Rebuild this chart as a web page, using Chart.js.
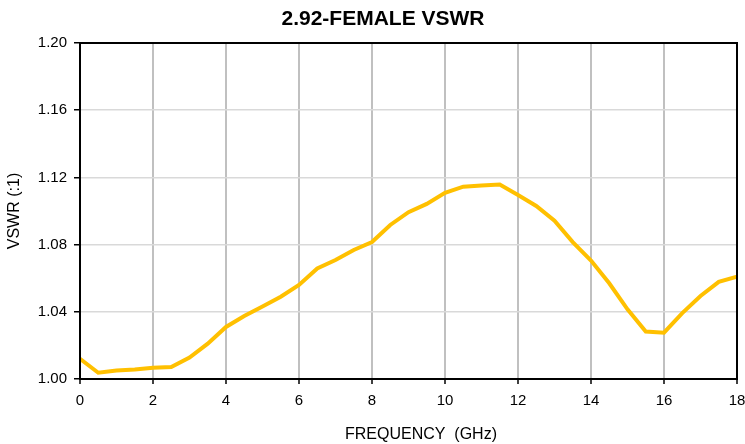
<!DOCTYPE html>
<html>
<head>
<meta charset="utf-8">
<script src="https://cdn.jsdelivr.net/npm/chart.js@4.4.1/dist/chart.umd.min.js"></script>
<style>
  html, body { margin: 0; padding: 0; background: #fff; }
  #wrap { width: 745px; height: 444px; }
</style>
</head>
<body>
<div id="wrap"><canvas id="vswr"></canvas></div>
<script>
// values
const freqGHz = [0, 0.5, 1, 1.5, 2, 2.5, 3, 3.5, 4, 4.5, 5, 5.5, 6, 6.5, 7, 7.5, 8, 8.5, 9,
  9.5, 10, 10.5, 11, 11.5, 12, 12.5, 13, 13.5, 14, 14.5, 15, 15.5, 16, 16.5, 17, 17.5, 18];
const vswr = [1.012, 1.0037, 1.005, 1.0056, 1.0067, 1.0072, 1.0128, 1.021, 1.031, 1.0375, 1.0432, 1.049,
  1.056, 1.0658, 1.0708, 1.0768, 1.0815, 1.0917, 1.0993, 1.1042, 1.1108, 1.1145, 1.1152, 1.1157,
  1.1095, 1.1030, 1.0942, 1.0815, 1.0705, 1.057, 1.0415, 1.0283, 1.0276, 1.0392, 1.0494, 1.0578, 1.0609];
const xTicks = { min: 0, max: 18, step: 2 };
const yTicks = { min: 1.0, max: 1.2, step: 0.04 };
const chartTitle = '2.92-FEMALE VSWR';
const xTitle = 'FREQUENCY  (GHz)';
const yTitle = 'VSWR (:1)';

const FONT = 'Liberation Sans, Arial, sans-serif';

// frame round the plot area, plus the two titles (placed off-centre like the original)
const frame = {
  id: 'frame',
  afterDatasetsDraw(chart) {
    const { ctx, chartArea: a } = chart;
    ctx.save();
    ctx.strokeStyle = '#000';
    ctx.lineWidth = 2;
    ctx.strokeRect(a.left, a.top, a.right - a.left, a.bottom - a.top);
    ctx.fillStyle = '#000';
    ctx.textAlign = 'center';
    ctx.textBaseline = 'middle';
    ctx.font = `bold 21px ${FONT}`;
    ctx.fillText(chartTitle, 383, 19);
    ctx.font = `16px ${FONT}`;
    ctx.fillText(xTitle, 421, 435);
    ctx.restore();
  }
};

new Chart(document.getElementById('vswr'), {
  type: 'line',
  data: {
    datasets: [{
      data: freqGHz.map((f, i) => ({ x: f, y: vswr[i] })),
      borderColor: '#FFC000',
      borderWidth: 4,
      pointRadius: 0,
      tension: 0,
      fill: false
    }]
  },
  options: {
    responsive: true,
    maintainAspectRatio: false,
    animation: false,
    layout: { padding: { left: 0, right: 8, top: 43, bottom: 0 } },
    plugins: {
      legend: { display: false },
      tooltip: { enabled: false },
      title: { display: false }
    },
    scales: {
      x: {
        type: 'linear',
        min: xTicks.min,
        max: xTicks.max,
        ticks: { stepSize: xTicks.step, color: '#000', font: { family: FONT, size: 15 }, padding: 8, maxRotation: 0 },
        grid: { color: '#c0c0c0', lineWidth: 2, tickColor: '#000', tickLength: 5, tickWidth: 1.5 },
        border: { display: false },
        afterFit(scale) {
          scale.height = 65;
          scale.paddingLeft = 0;
          scale.paddingRight = 0;
        }
      },
      y: {
        min: yTicks.min,
        max: yTicks.max,
        ticks: {
          stepSize: yTicks.step,
          color: '#000',
          font: { family: FONT, size: 15 },
          padding: 7,
          callback: v => v.toFixed(2)
        },
        grid: { color: '#d9d9d9', lineWidth: 1.5, tickColor: '#000', tickLength: 6, tickWidth: 1.5 },
        border: { display: false },
        title: { display: true, text: yTitle, color: '#000', font: { family: FONT, size: 16 }, padding: { top: 5, bottom: 0 } },
        afterFit(scale) {
          scale.width = 80;
          scale.paddingTop = 0;
          scale.paddingBottom = 0;
        }
      }
    }
  },
  plugins: [frame]
});
</script>
</body>
</html>
